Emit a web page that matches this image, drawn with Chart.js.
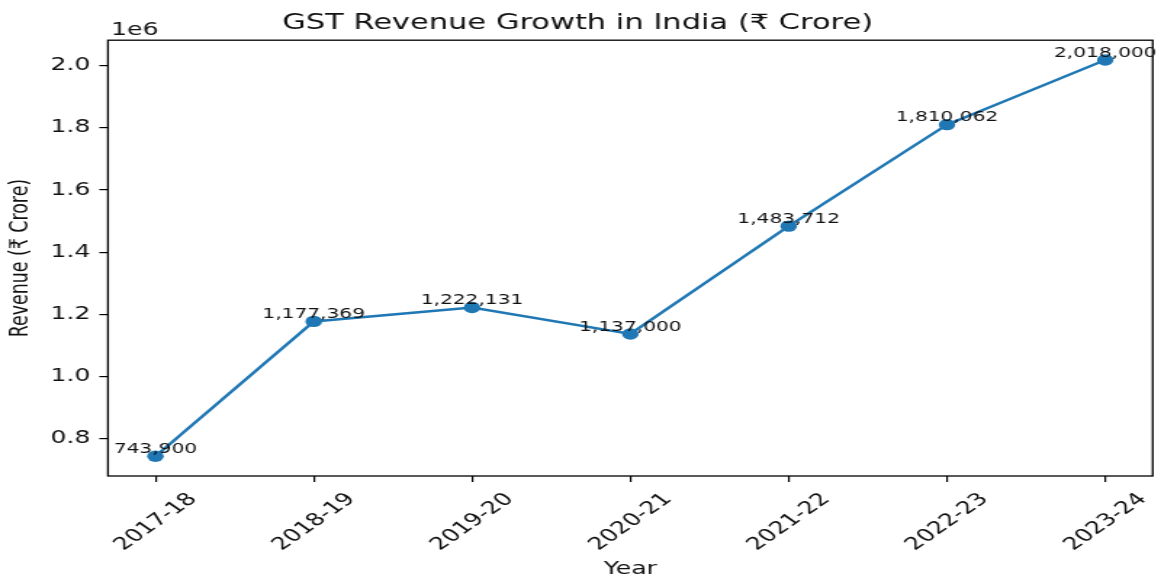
<!DOCTYPE html>
<html>
<head>
<meta charset="utf-8">
<script src="https://cdn.jsdelivr.net/npm/chart.js@4.4.1/dist/chart.umd.min.js"></script>
<style>
    html, body { margin: 0; padding: 0; background: #fff; }
</style>
</head>
<body>
<!-- the reference is stretched sideways, so the canvas is drawn narrow and widened by its inline style -->
<canvas id="gstChart" width="800" height="578" style="display:block; width:1161px; height:578px;"></canvas>
<script>
    const years = ['2017-18', '2018-19', '2019-20', '2020-21', '2021-22', '2022-23', '2023-24'];
    const revenue = [743900, 1177369, 1222131, 1137000, 1483712, 1810062, 2018000];
    const yTicks = [800000, 1000000, 1200000, 1400000, 1600000, 1800000, 2000000];

    const FONT = 'DejaVu Sans';
    const LINE_BLUE = '#1f77b4';

    // matplotlib style 5% margin around the data
    const yLo = Math.min(...revenue), yHi = Math.max(...revenue);
    const yPad = (yHi - yLo) * 0.05;
    const xPad = (years.length - 1) * 0.05;

    const framePlugin = {
        id: 'frame',
        afterDatasetsDraw(chart) {
            const ctx = chart.ctx, a = chart.chartArea;
            ctx.save();
            ctx.strokeStyle = '#000';
            ctx.lineWidth = 1.3;
            ctx.strokeRect(a.left, a.top, a.right - a.left, a.bottom - a.top);

            // value labels over each point
            const meta = chart.getDatasetMeta(0);
            ctx.fillStyle = '#111';
            ctx.font = '13.9px "' + FONT + '"';
            ctx.textAlign = 'center';
            ctx.textBaseline = 'bottom';
            meta.data.forEach((pt, i) => {
                ctx.fillText(revenue[i].toLocaleString('en-US'), pt.x, pt.y);
            });

            // axis offset text
            ctx.font = '17.4px "' + FONT + '"';
            ctx.textAlign = 'left';
            ctx.textBaseline = 'alphabetic';
            ctx.fillText('1e6', a.left + 2, a.top - 5.5);
            ctx.restore();
        }
    };

    new Chart(document.getElementById('gstChart'), {
        type: 'line',
        data: {
            datasets: [{
                data: years.map((y, i) => ({ x: i, y: revenue[i] })),
                borderColor: LINE_BLUE,
                backgroundColor: LINE_BLUE,
                borderWidth: 2.5,
                pointRadius: 5.7,
                pointBorderWidth: 0,
                pointBackgroundColor: LINE_BLUE,
                tension: 0
            }]
        },
        options: {
            responsive: false,
            devicePixelRatio: 1,
            animation: false,
            layout: { padding: { left: 0, right: 4, top: 0, bottom: 0 } },
            plugins: {
                legend: { display: false },
                tooltip: { enabled: false },
                title: {
                    display: true,
                    text: 'GST Revenue Growth in India (₹ Crore)',
                    color: '#111',
                    font: { family: FONT, size: 21, weight: 'normal' },
                    padding: { top: 11, bottom: 4 }
                }
            },
            scales: {
                x: {
                    type: 'linear',
                    min: -xPad,
                    max: years.length - 1 + xPad,
                    afterFit: s => { s.height = 102; },
                    afterBuildTicks: s => { s.ticks = years.map((y, i) => ({ value: i })); },
                    border: { display: false },
                    grid: { drawOnChartArea: false, drawTicks: true, tickLength: 6, color: '#000', lineWidth: 1.2 },
                    ticks: {
                        autoSkip: false,
                        minRotation: 45,
                        maxRotation: 45,
                        labelOffset: 26,
                        padding: 7,
                        color: '#111',
                        font: { family: FONT, size: 17.4 },
                        callback: v => years[Math.round(v)]
                    },
                    title: {
                        display: true,
                        text: 'Year',
                        color: '#111',
                        font: { family: FONT, size: 17.4 },
                        padding: { top: 0, bottom: -2 }
                    }
                },
                y: {
                    min: yLo - yPad,
                    max: yHi + yPad,
                    afterFit: s => { s.width = 74.4; },
                    afterBuildTicks: s => { s.ticks = yTicks.map(v => ({ value: v })); },
                    border: { display: false },
                    grid: { drawOnChartArea: false, drawTicks: true, tickLength: 6, color: '#000', lineWidth: 1.2 },
                    ticks: {
                        padding: 6,
                        color: '#111',
                        font: { family: FONT, size: 17.4 },
                        callback: v => (v / 1e6).toFixed(1)
                    },
                    title: {
                        display: true,
                        text: 'Revenue (₹ Crore)',
                        color: '#111',
                        font: { family: FONT, size: 17.4 },
                        padding: { top: 4, bottom: 4 }
                    }
                }
            }
        },
        plugins: [framePlugin]
    });
</script>
</body>
</html>
